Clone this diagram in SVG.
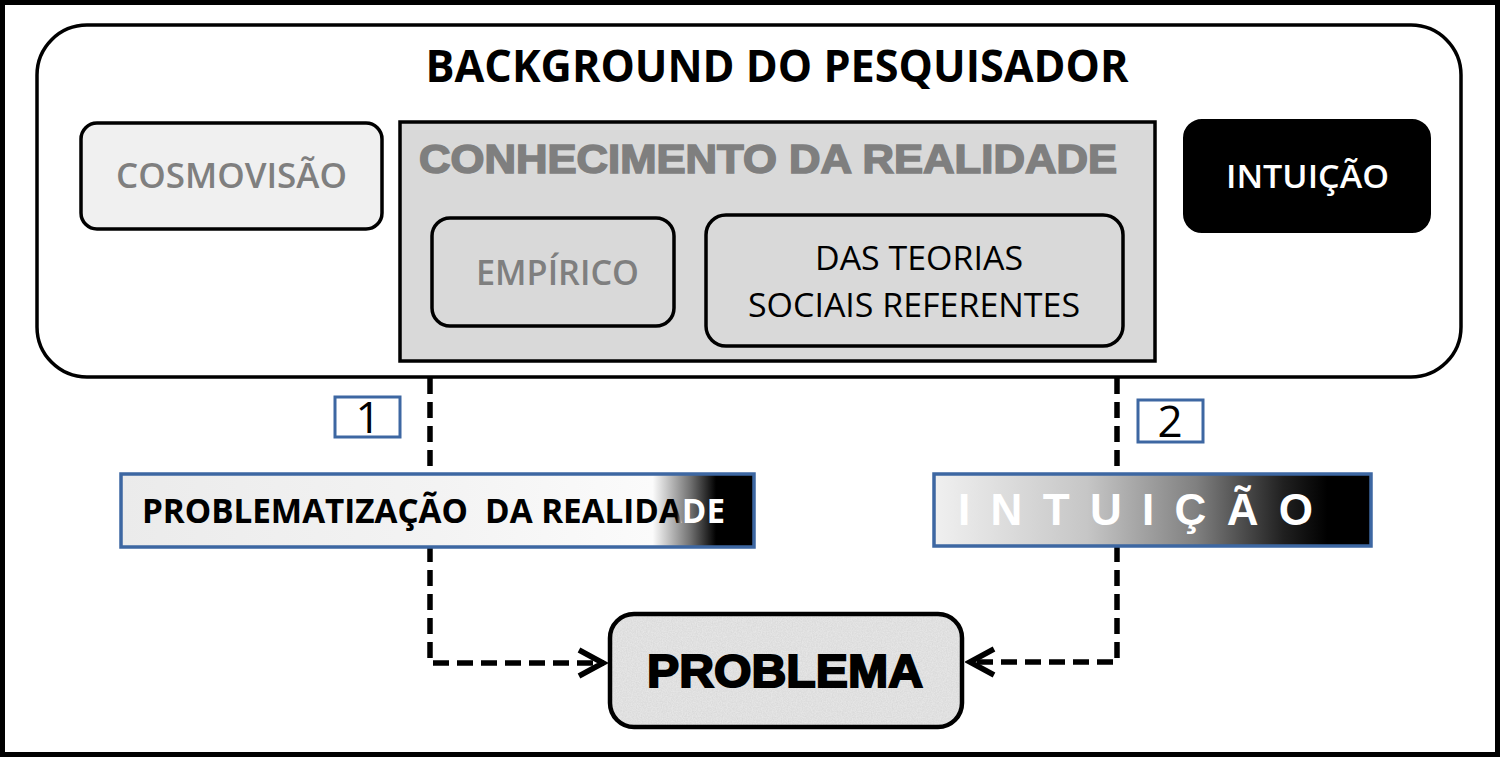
<svg xmlns="http://www.w3.org/2000/svg" width="1500" height="757" viewBox="0 0 1500 757">
<defs>
<style>
.os{font-family:"Open Sans","Liberation Sans",sans-serif;}
.lb{font-family:"Liberation Sans",Arial,sans-serif;font-weight:bold;}
.box{stroke:#000;stroke-width:3.5;}
.tag{fill:#fff;stroke:#3d67a2;stroke-width:3;}
.conn{fill:none;stroke:#000;stroke-width:5.5;stroke-dasharray:16 8;}
</style>
<linearGradient id="gProb" x1="0" y1="0" x2="1" y2="0">
<stop offset="0" stop-color="#ebebeb"/>
<stop offset="0.5" stop-color="#f3f3f3"/>
<stop offset="0.84" stop-color="#fbfbfb"/>
<stop offset="0.9" stop-color="#707070"/>
<stop offset="0.94" stop-color="#000"/>
<stop offset="1" stop-color="#000"/>
</linearGradient>
<linearGradient id="gProbText" gradientUnits="userSpaceOnUse" x1="677" y1="0" x2="683" y2="0">
<stop offset="0" stop-color="#000"/>
<stop offset="1" stop-color="#fff"/>
</linearGradient>
<linearGradient id="gInt" x1="0" y1="0" x2="1" y2="0">
<stop offset="0" stop-color="#f0f0f0"/>
<stop offset="0.35" stop-color="#c6c6c6"/>
<stop offset="0.6" stop-color="#808080"/>
<stop offset="0.8" stop-color="#202020"/>
<stop offset="0.9" stop-color="#000"/>
<stop offset="1" stop-color="#000"/>
</linearGradient>
<filter id="grain" x="0" y="0" width="100%" height="100%">
<feTurbulence type="fractalNoise" baseFrequency="0.8" numOctaves="2" seed="4" result="n"/>
<feColorMatrix in="n" type="matrix" values="0 0 0 0 0.62 0 0 0 0 0.62 0 0 0 0 0.62 0 0 0 0.9 -0.2" result="g"/>
<feComposite in="g" in2="SourceAlpha" operator="in" result="gm"/>
<feMerge><feMergeNode in="SourceGraphic"/><feMergeNode in="gm"/></feMerge>
</filter>
<marker id="chev" markerUnits="userSpaceOnUse" markerWidth="34" markerHeight="34" viewBox="0 0 34 34" refX="30" refY="17" orient="auto">
<path d="M5,4 L29,17 L5,30" fill="none" stroke="#000" stroke-width="5.5" stroke-linejoin="miter"/>
</marker>
</defs>

<rect x="0" y="0" width="1500" height="757" fill="#fff"/>
<rect x="2.5" y="2.5" width="1495" height="752" fill="none" stroke="#000" stroke-width="5"/>

<g id="connectors">
<path class="conn" d="M430,378 V663 H604" marker-end="url(#chev)"/>
<path class="conn" d="M1117,378 V662 H969" marker-end="url(#chev)"/>
</g>

<g id="background">
<rect class="box" x="37" y="25" width="1424" height="352" rx="50" fill="none"/>
<text class="os" x="777" y="82" font-size="45" font-weight="bold" text-anchor="middle" textLength="703" lengthAdjust="spacingAndGlyphs" fill="#000">BACKGROUND DO PESQUISADOR</text>
</g>

<g id="cosmovisao">
<rect class="box" x="81" y="123" width="301" height="106" rx="16" fill="#f0f0f0"/>
<text class="os" x="116" y="188" font-size="34" font-weight="600" textLength="231" lengthAdjust="spacingAndGlyphs" fill="#7f7f7f">COSMOVISÃO</text>
</g>

<g id="conhecimento">
<rect class="box" x="400" y="122" width="755" height="239" fill="#d9d9d9"/>
<text class="lb" x="419" y="173" font-size="40" textLength="698" lengthAdjust="spacingAndGlyphs" fill="#7f7f7f" stroke="#7f7f7f" stroke-width="1.6">CONHECIMENTO DA REALIDADE</text>
</g>

<g id="empirico">
<rect class="box" x="432" y="218" width="242" height="108" rx="18" fill="#d9d9d9"/>
<text class="os" x="476" y="285" font-size="34" font-weight="600" textLength="163" lengthAdjust="spacingAndGlyphs" fill="#7f7f7f">EMPÍRICO</text>
</g>

<g id="teorias">
<rect class="box" x="706" y="215" width="417" height="131" rx="20" fill="#d9d9d9"/>
<text class="os" x="815" y="270" font-size="32" textLength="208" lengthAdjust="spacingAndGlyphs" fill="#000">DAS TEORIAS</text>
<text class="os" x="748" y="317" font-size="32" textLength="332" lengthAdjust="spacingAndGlyphs" fill="#000">SOCIAIS REFERENTES</text>
</g>

<g id="intuicao-top">
<rect x="1184" y="120" width="246" height="112" rx="18" fill="#000" stroke="#000" stroke-width="2"/>
<text class="os" x="1226" y="188" font-size="33" font-weight="600" textLength="163" lengthAdjust="spacingAndGlyphs" fill="#fff">INTUIÇÃO</text>
</g>

<g id="tag1">
<rect class="tag" x="335" y="397" width="65" height="40"/>
<text class="os" x="368" y="433" font-size="44" text-anchor="middle" fill="#000">1</text>
</g>

<g id="tag2">
<rect class="tag" x="1138" y="400" width="65" height="42"/>
<text class="os" x="1170" y="437" font-size="44" text-anchor="middle" fill="#000">2</text>
</g>

<g id="problematizacao">
<rect x="121" y="474" width="633" height="73" fill="url(#gProb)" stroke="#3d67a2" stroke-width="3.5"/>
<text class="os" x="142" y="523" font-size="34" font-weight="bold" textLength="583" lengthAdjust="spacingAndGlyphs" fill="url(#gProbText)" xml:space="preserve">PROBLEMATIZAÇÃO  DA REALIDADE</text>
</g>

<g id="intuicao-bar">
<rect x="934" y="474" width="437" height="72" fill="url(#gInt)" stroke="#3d67a2" stroke-width="3.5"/>
<text class="lb" x="958" y="525" font-size="44" textLength="355" lengthAdjust="spacing" fill="#fff">INTUIÇÃO</text>
</g>

<g id="problema">
<rect x="610" y="614" width="352" height="113" rx="24" fill="#e6e6e6" filter="url(#grain)"/>
<rect x="610" y="614" width="352" height="113" rx="24" fill="none" stroke="#000" stroke-width="4.5"/>
<text class="lb" x="647" y="687" font-size="47" textLength="276" lengthAdjust="spacingAndGlyphs" fill="#000" stroke="#000" stroke-width="2">PROBLEMA</text>
</g>
</svg>
